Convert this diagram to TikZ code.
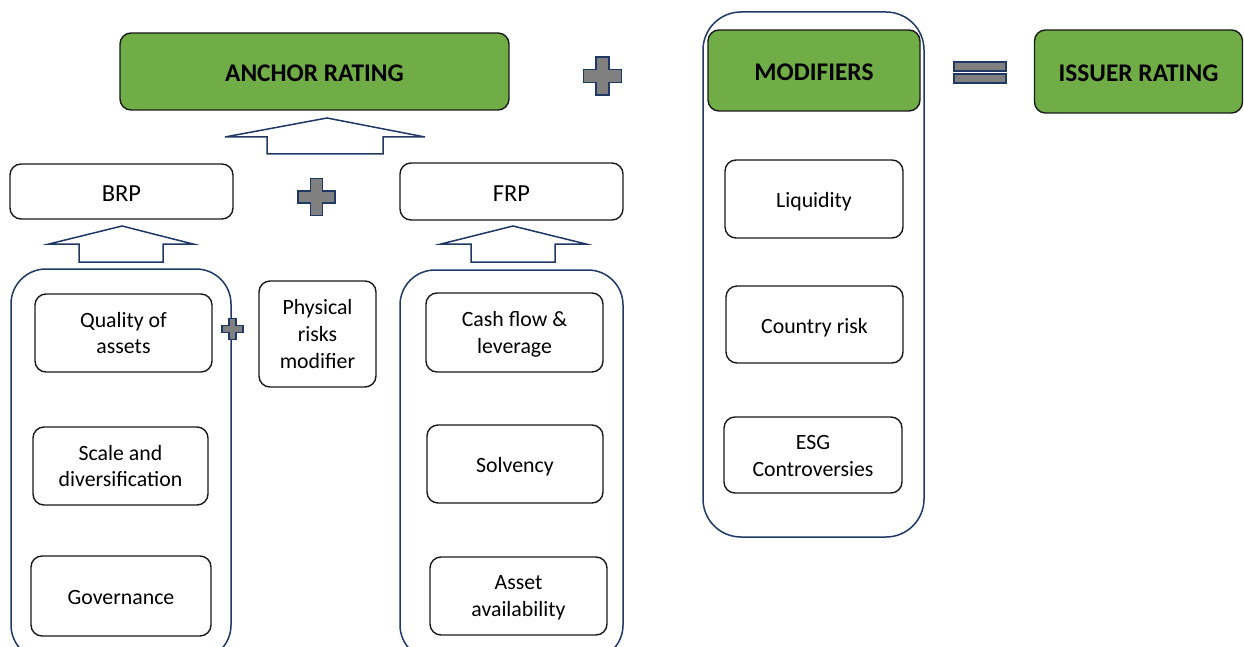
\documentclass[tikz,border=0pt]{standalone}
\usepackage{fontspec}
\setmainfont{Carlito}
\definecolor{navy}{HTML}{1F3864}
\definecolor{grn}{HTML}{70AD47}
\definecolor{plusgray}{HTML}{808080}
\newcommand{\topstrut}[1]{\rule{0pt}{#1}}
\newcommand{\botstrut}{\rule[-6pt]{0pt}{6pt}}
\newcommand{\nodepth}[1]{\raisebox{0pt}[\height][0pt]{#1}}
\tikzset{
  x=1pt, y=-1pt,
  plainbox/.style={draw=black!90, line width=1.4pt, rounded corners=11pt, fill=white, align=center,
    inner sep=0pt, font=\fontsize{21.8}{26.7}\selectfont},
  box/.style={plainbox, execute at begin node={\topstrut{23pt}}, execute at end node={\botstrut}},
  multibox/.style={plainbox},
  bigbox/.style={plainbox, font=\fontsize{24.5}{28}\selectfont,
    execute at begin node={\topstrut{25pt}}, execute at end node={\botstrut}},
  greenbox/.style={plainbox, fill=grn, font=\fontsize{25.4}{29}\selectfont\bfseries,
    execute at begin node={\topstrut{25.4pt}}, execute at end node={\botstrut}},
  container/.style={draw=navy, line width=1.5pt},
  blockarrow/.style={draw=navy, line width=1.5pt, fill=white},
  plusstyle/.style={draw=navy, line width=1.4pt, fill=plusgray},
}
\newcommand{\plussym}[4]{%
  \draw[plusstyle] ({#1-#4},{#2-#3}) -- ({#1+#4},{#2-#3}) -- ({#1+#4},{#2-#4}) -- ({#1+#3},{#2-#4})
   -- ({#1+#3},{#2+#4}) -- ({#1+#4},{#2+#4}) -- ({#1+#4},{#2+#3}) -- ({#1-#4},{#2+#3})
   -- ({#1-#4},{#2+#4}) -- ({#1-#3},{#2+#4}) -- ({#1-#3},{#2-#4}) -- ({#1-#4},{#2-#4}) -- cycle;}
\begin{document}
\begin{tikzpicture}
\useasboundingbox (0,0) rectangle (1244,647);
\clip (0,0) rectangle (1244,647);
% containers
\draw[container, rounded corners=38pt] (703,12) rectangle (924,537);
\draw[container, rounded corners=35pt] (11,269) rectangle (231,660);
\draw[container, rounded corners=35pt] (400,270) rectangle (623,660);
% top row
\node[greenbox, minimum width=389pt, minimum height=77pt] (anchor) at (314.5,71.5) {ANCHOR RATING};
\node[greenbox, minimum width=212pt, minimum height=81pt] (modifiers) at (814,70.5) {MODIFIERS};
\node[greenbox, minimum width=208pt, minimum height=83pt] (issuer) at (1138.5,71.5) {ISSUER RATING};
% plus and equals
\plussym{602.5}{76}{19}{6.5}
\plussym{316.5}{197}{18.5}{6}
\plussym{232.5}{329}{10.5}{3.5}
\draw[plusstyle] (954,62) rectangle (1006,71);
\draw[plusstyle] (954,74) rectangle (1006,83);
% BRP / FRP
\node[bigbox, minimum width=223pt, minimum height=55pt] (brp) at (121.5,191.5) {BRP};
\node[bigbox, minimum width=223pt, minimum height=57pt] (frp) at (511.5,191.5) {FRP};
% block arrows
\draw[blockarrow] (327,118) -- (425,137) -- (383,137) -- (383,154) -- (267,154) -- (267,137) -- (225,137) -- cycle;
\draw[blockarrow] (122,226) -- (193,244) -- (163,244) -- (163,262) -- (79,262) -- (79,244) -- (49,244) -- cycle;
\draw[blockarrow] (513,226) -- (586,244) -- (555,244) -- (555,262) -- (471,262) -- (471,244) -- (441,244) -- cycle;
% BRP items
\node[multibox, minimum width=177pt, minimum height=78pt] (quality) at (123.5,333) {Quality of\\assets};
\node[multibox, minimum width=175pt, minimum height=78pt] (scale) at (120.5,466) {Scale and\\diversification};
\node[box, minimum width=180pt, minimum height=80pt] (gov) at (121,596) {Governance};
\node[multibox, minimum width=117pt, minimum height=106pt] (phys) at (317.5,334) {Physical\\risks\\modifier};
% FRP items
\node[multibox, minimum width=177pt, minimum height=79pt] (cash) at (514.5,332.5) {Cash flow \&\\\nodepth{leverage}};
\node[box, minimum width=176pt, minimum height=78pt] (solv) at (515,464) {Solvency};
\node[multibox, minimum width=177pt, minimum height=78pt] (asset) at (518.5,596) {Asset\\\nodepth{availability}};
% modifiers items
\node[box, minimum width=178pt, minimum height=78pt] (liq) at (814,199) {Liquidity};
\node[box, minimum width=177pt, minimum height=77pt] (country) at (814.5,324.5) {Country risk};
\node[multibox, minimum width=178pt, minimum height=76pt] (esg) at (813,455) {\topstrut{16.4pt}ESG\\Controversies};
\end{tikzpicture}
\end{document}
